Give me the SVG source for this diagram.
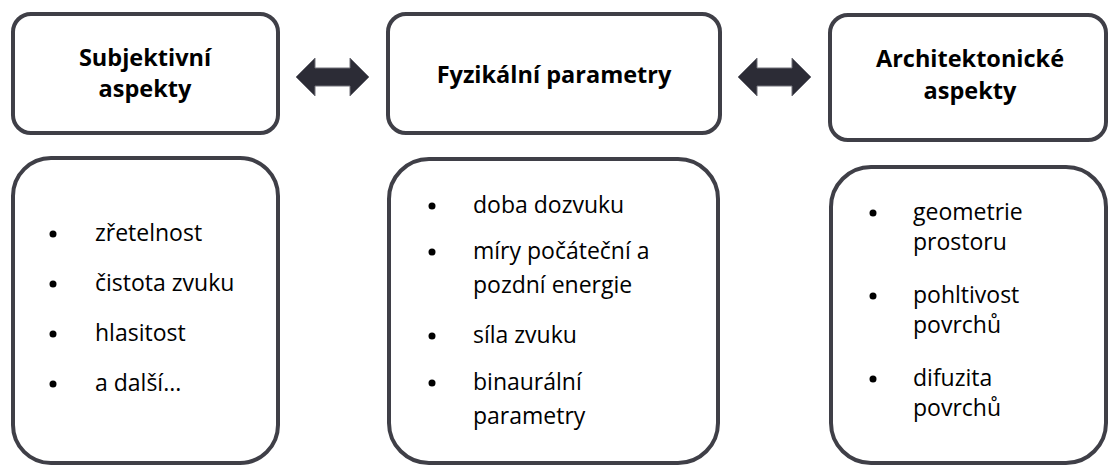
<svg xmlns="http://www.w3.org/2000/svg" width="1112" height="466" viewBox="0 0 1112 466">
<defs>
<style>
.box{fill:#fff;stroke:#3f3f47;stroke-width:4}
.title{font-family:"Open Sans","Liberation Sans",sans-serif;font-weight:bold;font-size:23.5px;fill:#000;text-anchor:middle}
.item{font-family:"Open Sans","Liberation Sans",sans-serif;font-size:23px;fill:#000}
.bullet{fill:#000}
.arrow{fill:#2c2c36;stroke:#707078;stroke-width:1}
</style>
</defs>
<rect width="1112" height="466" fill="#fff"/>
<g id="subjektivni">
<rect class="box" x="13" y="14" width="265" height="119" rx="18"/>
<text class="title" x="145" y="66">Subjektivní</text>
<text class="title" x="145" y="97">aspekty</text>
</g>
<g id="fyzikalni">
<rect class="box" x="388" y="14" width="332" height="119" rx="18"/>
<text class="title" x="554" y="83">Fyzikální parametry</text>
</g>
<g id="architektonicke">
<rect class="box" x="830" y="15" width="276" height="125" rx="18"/>
<text class="title" x="970" y="67">Architektonické</text>
<text class="title" x="970" y="99">aspekty</text>
</g>
<g id="subjektivni-list">
<rect class="box" x="13" y="158" width="265" height="305" rx="38"/>
<circle class="bullet" cx="53" cy="234" r="3.5"/>
<text class="item" x="95" y="241">zřetelnost</text>
<circle class="bullet" cx="53" cy="284" r="3.5"/>
<text class="item" x="95" y="291">čistota zvuku</text>
<circle class="bullet" cx="53" cy="334" r="3.5"/>
<text class="item" x="95" y="341">hlasitost</text>
<circle class="bullet" cx="53" cy="384" r="3.5"/>
<text class="item" x="95" y="391">a další...</text>
</g>
<g id="fyzikalni-list">
<rect class="box" x="389" y="159" width="329" height="304" rx="40"/>
<circle class="bullet" cx="432" cy="206" r="3.5"/>
<text class="item" x="473" y="213">doba dozvuku</text>
<circle class="bullet" cx="432" cy="252" r="3.5"/>
<text class="item" x="473" y="259">míry počáteční a</text>
<text class="item" x="473" y="293">pozdní energie</text>
<circle class="bullet" cx="432" cy="336" r="3.5"/>
<text class="item" x="473" y="343">síla zvuku</text>
<circle class="bullet" cx="432" cy="383" r="3.5"/>
<text class="item" x="473" y="390">binaurální</text>
<text class="item" x="473" y="424">parametry</text>
</g>
<g id="architektonicke-list">
<rect class="box" x="831" y="167" width="275" height="296" rx="40"/>
<circle class="bullet" cx="873" cy="213" r="3.5"/>
<text class="item" x="913" y="220">geometrie</text>
<text class="item" x="913" y="250">prostoru</text>
<circle class="bullet" cx="873" cy="296" r="3.5"/>
<text class="item" x="913" y="303">pohltivost</text>
<text class="item" x="913" y="333">povrchů</text>
<circle class="bullet" cx="873" cy="379" r="3.5"/>
<text class="item" x="913" y="386">difuzita</text>
<text class="item" x="913" y="416">povrchů</text>
</g>
<g id="connectors">
<path class="arrow" d="M296,77 L315,58 L315,68 L350,68 L350,58 L369,77 L350,96 L350,86 L315,86 L315,96 Z"/>
<path class="arrow" d="M738,77 L757,58 L757,68 L792,68 L792,58 L811,77 L792,96 L792,86 L757,86 L757,96 Z"/>
</g>
</svg>
